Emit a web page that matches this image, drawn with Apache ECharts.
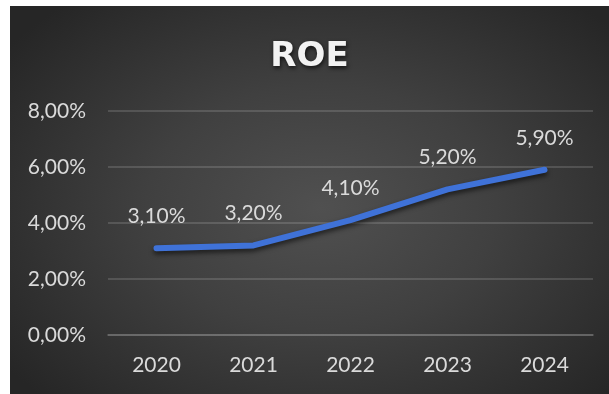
<!DOCTYPE html>
<html>
<head>
<meta charset="utf-8">
<script src="https://cdn.jsdelivr.net/npm/echarts@6/dist/echarts.min.js"></script>
<style>
  html, body { margin: 0; padding: 0; background: #ffffff; }
  #wrap {
    position: absolute; left: 10px; top: 6px; width: 599px; height: 388px;
    background: radial-gradient(ellipse 65% 70% at 52% 52%, #505050 0%, #404040 45%, #262626 100%);
  }
  #chart { width: 599px; height: 388px; }
</style>
</head>
<body>
<div id="wrap"><div id="chart"></div></div>
<script>
const titleText = 'ROE';
const categories = ['2020', '2021', '2022', '2023', '2024'];
const roeValues = [3.10, 3.20, 4.10, 5.20, 5.90];
const yTicks = { min: 0, max: 8, interval: 2 };

const fmt = v => v.toFixed(2).replace('.', ',') + '%';

const chart = echarts.init(document.getElementById('chart'), null, { renderer: 'canvas' });
chart.setOption({
  backgroundColor: 'transparent',
  animation: false,
  title: {
    text: titleText,
    left: 'center',
    top: 29,
    textStyle: {
      fontFamily: 'DejaVu Sans',
      fontWeight: 'bold',
      fontSize: 34,
      color: '#f2f2f2',
      textShadowColor: 'rgba(0,0,0,0.7)',
      textShadowBlur: 4,
      textShadowOffsetX: 1,
      textShadowOffsetY: 2
    }
  },
  grid: { left: 98, right: 16, top: 105, bottom: 59, containLabel: false },
  xAxis: {
    type: 'category',
    data: categories,
    boundaryGap: true,
    axisLine: { show: true, lineStyle: { color: 'rgba(255,255,255,0.14)', width: 2 } },
    axisTick: { show: false },
    axisLabel: { color: '#dadada', fontFamily: 'Lato', fontSize: 21, margin: 20 }
  },
  yAxis: {
    type: 'value',
    min: yTicks.min, max: yTicks.max, interval: yTicks.interval,
    axisLine: { show: false },
    axisTick: { show: false },
    splitLine: { lineStyle: { color: 'rgba(255,255,255,0.14)', width: 2 } },
    axisLabel: { color: '#dadada', fontFamily: 'Lato', fontSize: 21, margin: 22, formatter: fmt }
  },
  series: [{
    type: 'line',
    data: roeValues,
    showSymbol: true,
    symbol: 'circle',
    symbolSize: 1,
    itemStyle: { color: 'rgba(0,0,0,0)' },
    lineStyle: {
      color: '#3f72d8', width: 6, cap: 'round', join: 'round',
      shadowColor: 'rgba(0,0,0,0.6)', shadowBlur: 5, shadowOffsetY: 3
    },
    label: {
      show: true,
      position: 'top',
      distance: 21,
      color: '#dadada',
      fontFamily: 'Lato',
      fontSize: 21,
      formatter: p => fmt(p.value)
    }
  }]
});
</script>
</body>
</html>
